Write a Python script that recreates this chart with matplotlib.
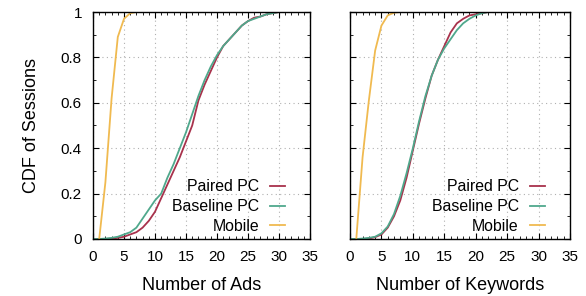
import numpy as np
import matplotlib.pyplot as plt
from matplotlib.ticker import MultipleLocator

# CDF values, x = 0, 1, 2, ...
ads_x_pc = list(range(0, 32))
ads_paired = [0, 0, 0, 0.002, 0.005, 0.01, 0.02, 0.03, 0.05, 0.08, 0.12, 0.18,
              0.24, 0.30, 0.36, 0.43, 0.50, 0.61, 0.68, 0.74, 0.80, 0.85, 0.88,
              0.91, 0.94, 0.96, 0.975, 0.98, 0.99, 0.995, 1.0, 1.0]
ads_baseline = [0, 0, 0.002, 0.005, 0.01, 0.02, 0.03, 0.05, 0.09, 0.13, 0.17,
                0.20, 0.27, 0.33, 0.40, 0.47, 0.55, 0.63, 0.70, 0.76, 0.81,
                0.85, 0.88, 0.91, 0.94, 0.96, 0.97, 0.98, 0.99, 0.995, 1.0, 1.0]
ads_x_mobile = list(range(1, 14))
ads_mobile = [0, 0.25, 0.62, 0.89, 0.97, 0.995, 1.0, 1.0, 1.0, 1.0, 1.0, 1.0, 1.0]

kw_x_pc = list(range(0, 26))
kw_paired = [0, 0, 0, 0.002, 0.008, 0.02, 0.05, 0.10, 0.17, 0.27, 0.39, 0.51,
             0.62, 0.72, 0.79, 0.85, 0.91, 0.95, 0.97, 0.985, 0.99, 0.995,
             1.0, 1.0, 1.0, 1.0]
kw_baseline = [0, 0, 0.002, 0.005, 0.01, 0.025, 0.055, 0.11, 0.19, 0.29, 0.40,
               0.52, 0.63, 0.72, 0.79, 0.84, 0.88, 0.92, 0.95, 0.97, 0.985,
               0.995, 1.0, 1.0, 1.0, 1.0]
kw_x_mobile = list(range(1, 9))
kw_mobile = [0, 0.36, 0.61, 0.83, 0.94, 0.985, 0.997, 1.0]

xlabels = ['Number of Ads', 'Number of Keywords']
series_names = ['Paired PC', 'Baseline PC', 'Mobile']
colors = ['#a8324c', '#4fa88c', '#f0ba50']
yticks = [0, 0.2, 0.4, 0.6, 0.8, 1.0]
yticklabels = ['0', '0.2', '0.4', '0.6', '0.8', '1']

plt.rcParams['font.family'] = ['Liberation Sans', 'DejaVu Sans']

fig = plt.figure(figsize=(5.86, 2.96), dpi=100)
ax1 = fig.add_axes([93 / 586, 57 / 296, 217 / 586, 227 / 296])
ax2 = fig.add_axes([350 / 586, 57 / 296, 220 / 586, 227 / 296])

panels = [
    (ax1, ads_x_pc, ads_paired, ads_baseline, ads_x_mobile, ads_mobile),
    (ax2, kw_x_pc, kw_paired, kw_baseline, kw_x_mobile, kw_mobile),
]

for i, (ax, xpc, paired, baseline, xm, mobile) in enumerate(panels):
    ax.plot(xpc, paired, color=colors[0], lw=1.3, label=series_names[0])
    ax.plot(xpc, baseline, color=colors[1], lw=1.3, label=series_names[1])
    ax.plot(xm, mobile, color=colors[2], lw=1.3, label=series_names[2])

    ax.set_xlim(0, 35)
    ax.set_ylim(0, 1)
    ax.xaxis.set_major_locator(MultipleLocator(5))
    ax.xaxis.set_minor_locator(MultipleLocator(1))
    ax.set_yticks(yticks)
    ax.set_yticklabels(yticklabels)
    ax.yaxis.set_minor_locator(MultipleLocator(0.1))
    ax.tick_params(which='both', direction='in', top=True, right=True,
                   labelsize=11, pad=8)
    ax.tick_params(which='major', length=4, width=0.8)
    ax.tick_params(which='minor', length=2, width=0.6)
    ax.grid(True, which='major', color='#b0b0b0', ls=(0, (1, 3)), lw=0.8)
    ax.set_xlabel(xlabels[i], fontsize=13, labelpad=9)
    for s in ax.spines.values():
        s.set_linewidth(1.0)
    ax.legend(loc='lower right', frameon=False, markerfirst=False,
              fontsize=11.4, handlelength=0.95, handletextpad=0.7,
              labelspacing=0.3, borderaxespad=0.0,
              bbox_to_anchor=(0.915, -0.005))

ax1.set_ylabel('CDF of Sessions', fontsize=13, labelpad=15)
ax2.tick_params(labelleft=False)

fig.savefig('out.png', dpi=100)
